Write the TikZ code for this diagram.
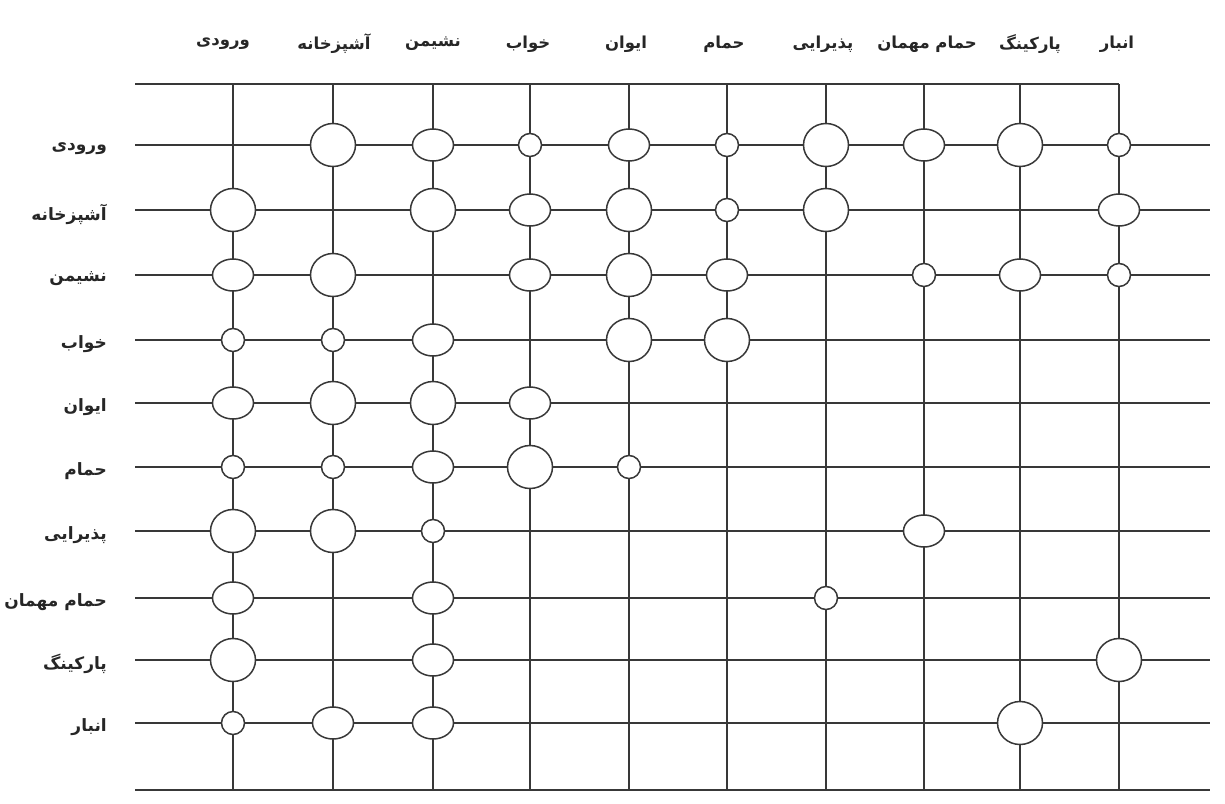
\documentclass[tikz,border=0pt]{standalone}
\usepackage{fontspec}
\newfontfamily\arabicfont[Script=Arabic]{DejaVu Sans}
\TeXXeTstate=1
\usetikzlibrary{shapes.geometric}
\tikzset{
  gridline/.style={draw=black!78, line width=1.5pt},
  rel/.style={draw=black!78, line width=1.5pt, fill=white, inner sep=0pt},
  rbig/.style={rel, ellipse, minimum width=45pt, minimum height=43pt},
  rmid/.style={rel, ellipse, minimum width=41pt, minimum height=32pt},
  rsmall/.style={rel, circle, minimum size=23pt},
  head/.style={font=\arabicfont\bfseries\fontsize{16.5}{19}\selectfont, text=black!85, anchor=center, inner sep=0pt},
  rowlab/.style={font=\arabicfont\bfseries\fontsize{17}{20}\selectfont, text=black!85, anchor=east, inner sep=0pt}
}
\begin{document}
\begin{tikzpicture}[x=1pt,y=-1pt]
\fill[white] (0,0) rectangle (1225,803);
\useasboundingbox (0,0) rectangle (1225,803);
% coordinates
\foreach \x [count=\j] in {233,333,433,530,629,727,826,924,1020,1119}{
  \coordinate (T-\j) at (\x,84);
  \coordinate (B-\j) at (\x,790);
}
\foreach \y [count=\i] in {145,210,275,340,403,467,531,598,660,723}{
  \coordinate (L-\i) at (135,\y);
  \coordinate (R-\i) at (1210,\y);
}
\coordinate (TL) at (135,84);
\coordinate (BL) at (135,790);
\coordinate (BR) at (1210,790);
% grid lines
\draw[gridline] (TL) -- (T-10);
\draw[gridline] (BL) -- (BR);
\foreach \i in {1,...,10}{ \draw[gridline] (L-\i) -- (R-\i); }
\foreach \j in {1,...,10}{ \draw[gridline] (T-\j) -- (B-\j); }
% headers
\foreach \t/\dx [count=\j] in {ورودی/-10,آشپزخانه/1,نشیمن/0,خواب/-2,ایوان/-3,حمام/-3,پذیرایی/-3,حمام مهمان/3,پارکینگ/10,انبار/-2}{
  \node[head] (h-\j) at ([xshift=\dx pt,yshift=40pt]T-\j) {\beginR\t\endR};
}
% row labels
\foreach \t [count=\i] in {ورودی,آشپزخانه,نشیمن,خواب,ایوان,حمام,پذیرایی,حمام مهمان,پارکینگ,انبار}{
  \node[rowlab] (r-\i) at ([xshift=-28pt,yshift=-4pt]L-\i) {\beginR\t\endR};
}
% relationship circles
\foreach \i/\j/\s in {
  1/2/rbig,1/3/rmid,1/4/rsmall,1/5/rmid,1/6/rsmall,1/7/rbig,1/8/rmid,1/9/rbig,1/10/rsmall,
  2/1/rbig,2/3/rbig,2/4/rmid,2/5/rbig,2/6/rsmall,2/7/rbig,2/10/rmid,
  3/1/rmid,3/2/rbig,3/4/rmid,3/5/rbig,3/6/rmid,3/8/rsmall,3/9/rmid,3/10/rsmall,
  4/1/rsmall,4/2/rsmall,4/3/rmid,4/5/rbig,4/6/rbig,
  5/1/rmid,5/2/rbig,5/3/rbig,5/4/rmid,
  6/1/rsmall,6/2/rsmall,6/3/rmid,6/4/rbig,6/5/rsmall,
  7/1/rbig,7/2/rbig,7/3/rsmall,7/8/rmid,
  8/1/rmid,8/3/rmid,8/7/rsmall,
  9/1/rbig,9/3/rmid,9/10/rbig,
  10/1/rsmall,10/2/rmid,10/3/rmid,10/9/rbig}{
  \node[\s] (c-\i-\j) at (T-\j |- L-\i) {};
}
\end{tikzpicture}
\end{document}
